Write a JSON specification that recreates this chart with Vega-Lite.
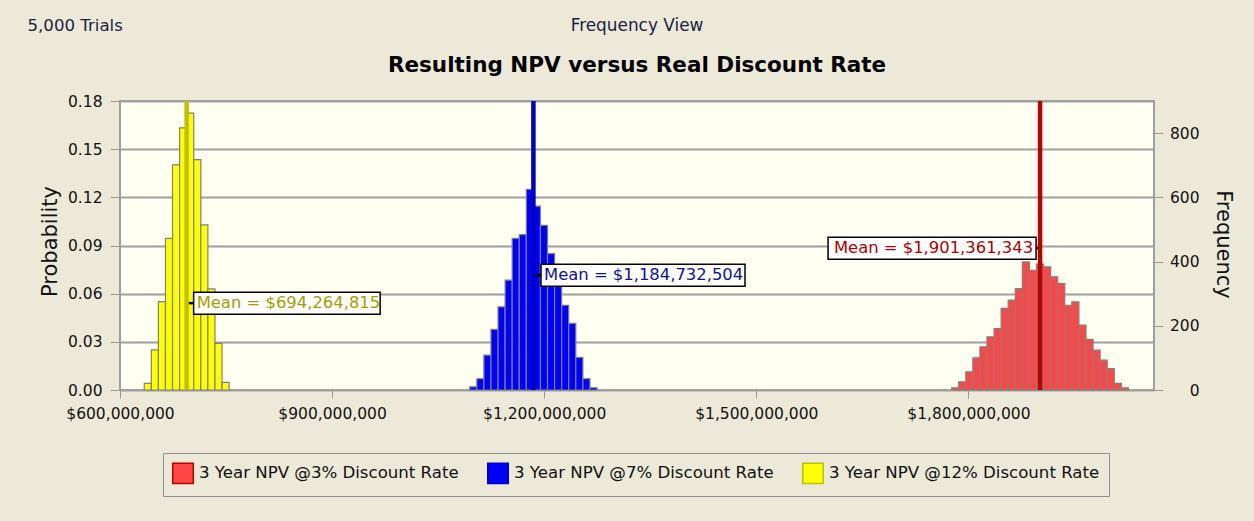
{
  "$schema": "https://vega.github.io/schema/vega-lite/v6.json",
  "width": 1034,
  "height": 289,
  "autosize": "none",
  "padding": {"left": 120, "top": 101, "right": 100, "bottom": 131},
  "background": "#ece9d8",
  "datasets": {
    "bins": [
      {"series": "3 Year NPV @12% Discount Rate", "start": 634300000, "end": 644300000, "probability": 0.0041},
      {"series": "3 Year NPV @12% Discount Rate", "start": 644300000, "end": 654300000, "probability": 0.0250},
      {"series": "3 Year NPV @12% Discount Rate", "start": 654300000, "end": 664300000, "probability": 0.0551},
      {"series": "3 Year NPV @12% Discount Rate", "start": 664300000, "end": 674300000, "probability": 0.0944},
      {"series": "3 Year NPV @12% Discount Rate", "start": 674300000, "end": 684300000, "probability": 0.1402},
      {"series": "3 Year NPV @12% Discount Rate", "start": 684300000, "end": 694300000, "probability": 0.1632},
      {"series": "3 Year NPV @12% Discount Rate", "start": 694300000, "end": 704300000, "probability": 0.1725},
      {"series": "3 Year NPV @12% Discount Rate", "start": 704300000, "end": 714300000, "probability": 0.1435},
      {"series": "3 Year NPV @12% Discount Rate", "start": 714300000, "end": 724300000, "probability": 0.1028},
      {"series": "3 Year NPV @12% Discount Rate", "start": 724300000, "end": 734300000, "probability": 0.0630},
      {"series": "3 Year NPV @12% Discount Rate", "start": 734300000, "end": 744300000, "probability": 0.0290},
      {"series": "3 Year NPV @12% Discount Rate", "start": 744300000, "end": 754300000, "probability": 0.0047},
      {"series": "3 Year NPV @7% Discount Rate", "start": 1094700000, "end": 1104700000, "probability": 0.0020},
      {"series": "3 Year NPV @7% Discount Rate", "start": 1104700000, "end": 1114700000, "probability": 0.0070},
      {"series": "3 Year NPV @7% Discount Rate", "start": 1114700000, "end": 1124700000, "probability": 0.0217},
      {"series": "3 Year NPV @7% Discount Rate", "start": 1124700000, "end": 1134700000, "probability": 0.0377},
      {"series": "3 Year NPV @7% Discount Rate", "start": 1134700000, "end": 1144700000, "probability": 0.0518},
      {"series": "3 Year NPV @7% Discount Rate", "start": 1144700000, "end": 1154700000, "probability": 0.0684},
      {"series": "3 Year NPV @7% Discount Rate", "start": 1154700000, "end": 1164700000, "probability": 0.0944},
      {"series": "3 Year NPV @7% Discount Rate", "start": 1164700000, "end": 1174700000, "probability": 0.0968},
      {"series": "3 Year NPV @7% Discount Rate", "start": 1174700000, "end": 1184700000, "probability": 0.1249},
      {"series": "3 Year NPV @7% Discount Rate", "start": 1184700000, "end": 1194700000, "probability": 0.1145},
      {"series": "3 Year NPV @7% Discount Rate", "start": 1194700000, "end": 1204700000, "probability": 0.1026},
      {"series": "3 Year NPV @7% Discount Rate", "start": 1204700000, "end": 1214700000, "probability": 0.0850},
      {"series": "3 Year NPV @7% Discount Rate", "start": 1214700000, "end": 1224700000, "probability": 0.0709},
      {"series": "3 Year NPV @7% Discount Rate", "start": 1224700000, "end": 1234700000, "probability": 0.0528},
      {"series": "3 Year NPV @7% Discount Rate", "start": 1234700000, "end": 1244700000, "probability": 0.0415},
      {"series": "3 Year NPV @7% Discount Rate", "start": 1244700000, "end": 1254700000, "probability": 0.0203},
      {"series": "3 Year NPV @7% Discount Rate", "start": 1254700000, "end": 1264700000, "probability": 0.0070},
      {"series": "3 Year NPV @7% Discount Rate", "start": 1264700000, "end": 1274700000, "probability": 0.0014},
      {"series": "3 Year NPV @3% Discount Rate", "start": 1776300000, "end": 1786300000, "probability": 0.0014},
      {"series": "3 Year NPV @3% Discount Rate", "start": 1786300000, "end": 1796300000, "probability": 0.0051},
      {"series": "3 Year NPV @3% Discount Rate", "start": 1796300000, "end": 1806300000, "probability": 0.0113},
      {"series": "3 Year NPV @3% Discount Rate", "start": 1806300000, "end": 1816300000, "probability": 0.0200},
      {"series": "3 Year NPV @3% Discount Rate", "start": 1816300000, "end": 1826300000, "probability": 0.0269},
      {"series": "3 Year NPV @3% Discount Rate", "start": 1826300000, "end": 1836300000, "probability": 0.0331},
      {"series": "3 Year NPV @3% Discount Rate", "start": 1836300000, "end": 1846300000, "probability": 0.0383},
      {"series": "3 Year NPV @3% Discount Rate", "start": 1846300000, "end": 1856300000, "probability": 0.0508},
      {"series": "3 Year NPV @3% Discount Rate", "start": 1856300000, "end": 1866300000, "probability": 0.0560},
      {"series": "3 Year NPV @3% Discount Rate", "start": 1866300000, "end": 1876300000, "probability": 0.0632},
      {"series": "3 Year NPV @3% Discount Rate", "start": 1876300000, "end": 1886300000, "probability": 0.0798},
      {"series": "3 Year NPV @3% Discount Rate", "start": 1886300000, "end": 1896300000, "probability": 0.0746},
      {"series": "3 Year NPV @3% Discount Rate", "start": 1896300000, "end": 1906300000, "probability": 0.0784},
      {"series": "3 Year NPV @3% Discount Rate", "start": 1906300000, "end": 1916300000, "probability": 0.0767},
      {"series": "3 Year NPV @3% Discount Rate", "start": 1916300000, "end": 1926300000, "probability": 0.0705},
      {"series": "3 Year NPV @3% Discount Rate", "start": 1926300000, "end": 1936300000, "probability": 0.0663},
      {"series": "3 Year NPV @3% Discount Rate", "start": 1936300000, "end": 1946300000, "probability": 0.0528},
      {"series": "3 Year NPV @3% Discount Rate", "start": 1946300000, "end": 1956300000, "probability": 0.0549},
      {"series": "3 Year NPV @3% Discount Rate", "start": 1956300000, "end": 1966300000, "probability": 0.0404},
      {"series": "3 Year NPV @3% Discount Rate", "start": 1966300000, "end": 1976300000, "probability": 0.0315},
      {"series": "3 Year NPV @3% Discount Rate", "start": 1976300000, "end": 1986300000, "probability": 0.0248},
      {"series": "3 Year NPV @3% Discount Rate", "start": 1986300000, "end": 1996300000, "probability": 0.0186},
      {"series": "3 Year NPV @3% Discount Rate", "start": 1996300000, "end": 2006300000, "probability": 0.0134},
      {"series": "3 Year NPV @3% Discount Rate", "start": 2006300000, "end": 2016300000, "probability": 0.0041},
      {"series": "3 Year NPV @3% Discount Rate", "start": 2016300000, "end": 2026300000, "probability": 0.0014}
    ],
    "means": [
      {"series": "3 Year NPV @3% Discount Rate", "mean": 1901361343, "label": "Mean = $1,901,361,343"},
      {"series": "3 Year NPV @7% Discount Rate", "mean": 1184732504, "label": "Mean = $1,184,732,504"},
      {"series": "3 Year NPV @12% Discount Rate", "mean": 694264815, "label": "Mean = $694,264,815"}
    ]
  },
  "title": {
    "text": "Frequency View",
    "subtitle": "Resulting NPV versus Real Discount Rate",
    "anchor": "middle",
    "frame": "group",
    "font": "DejaVu Sans",
    "fontSize": 16.9,
    "fontWeight": "normal",
    "color": "#1c1c44",
    "subtitleFont": "DejaVu Sans",
    "subtitleFontSize": 21.5,
    "subtitleFontWeight": "bold",
    "subtitleColor": "#000000",
    "subtitlePadding": 20,
    "offset": -60
  },
  "config": {
    "view": {"fill": "#fffff2", "stroke": "#a0a0a0", "strokeWidth": 2},
    "axis": {
      "labelFont": "DejaVu Sans",
      "labelFontSize": 15.5,
      "labelColor": "#111111",
      "titleFont": "DejaVu Sans",
      "titleFontWeight": "normal",
      "titleColor": "#111111",
      "tickColor": "#999999",
      "labelFlush": false,
      "labelOverlap": false
    }
  },
  "layer": [
    {
      "layer": [
        {
          "data": {"name": "bins"},
          "mark": {"type": "rect", "stroke": "#808080", "strokeWidth": 1.2},
          "encoding": {
            "x": {
              "field": "start", "type": "quantitative",
              "scale": {"domain": [600000000, 2062500000], "nice": false, "zero": false},
              "axis": {"orient": "bottom", "title": null, "values": [600000000, 900000000, 1200000000, 1500000000, 1800000000], "format": "$,.0f", "grid": false, "domain": false, "tickSize": 8, "labelPadding": 8}
            },
            "x2": {"field": "end"},
            "y": {
              "field": "probability", "type": "quantitative",
              "scale": {"domain": [0, 0.18], "nice": false},
              "axis": {"orient": "left", "title": "Probability", "values": [0, 0.03, 0.06, 0.09, 0.12, 0.15, 0.18], "format": ".2f", "grid": true, "gridColor": "#a0a0a0", "gridWidth": 1.8, "domain": false, "tickSize": 10, "labelPadding": 8, "titleFontSize": 21, "titleAngle": -90, "titleX": -64, "titleY": 140, "titleAlign": "center", "titleBaseline": "alphabetic"}
            },
            "fill": {
              "field": "series", "type": "nominal",
              "scale": {"domain": ["3 Year NPV @3% Discount Rate", "3 Year NPV @7% Discount Rate", "3 Year NPV @12% Discount Rate"], "range": ["#ff4646", "#0000ff", "#ffff00"]},
              "legend": {"orient": "none", "legendX": 43, "legendY": 352, "direction": "horizontal", "title": null, "symbolType": "square", "symbolSize": 420, "symbolStrokeColor": "#808080", "symbolStrokeWidth": 1.5, "symbolOpacity": 1, "labelFont": "DejaVu Sans", "labelFontSize": 16.6, "labelColor": "#111111", "labelLimit": 0, "labelOffset": 5, "columnPadding": 25, "padding": 9, "strokeColor": "#909090", "fillColor": "#ece9d8"}
            }
          }
        },
        {
          "data": {"name": "means"},
          "transform": [{"filter": "datum.series === '3 Year NPV @12% Discount Rate'"}],
          "layer": [
            {
              "mark": {"type": "rule", "color": "#000000", "strokeWidth": 2.5, "x2Offset": 7},
              "encoding": {"x": {"field": "mean", "type": "quantitative", "title": null}, "x2": {"field": "mean"}, "y": {"datum": 0.0541, "type": "quantitative"}}
            },
            {
              "mark": {"type": "rect", "fill": "#ffffff", "stroke": "#000000", "strokeWidth": 1.5, "xOffset": 7, "x2Offset": 193.5, "yOffset": -11, "y2Offset": 11},
              "encoding": {"x": {"field": "mean", "type": "quantitative", "title": null}, "x2": {"field": "mean"}, "y": {"datum": 0.0541, "type": "quantitative"}, "y2": {"datum": 0.0541}}
            },
            {
              "mark": {"type": "text", "align": "left", "baseline": "middle", "xOffset": 10, "font": "DejaVu Sans", "fontSize": 16.4, "color": "#a0a000"},
              "encoding": {"x": {"field": "mean", "type": "quantitative", "title": null}, "y": {"datum": 0.0541, "type": "quantitative"}, "text": {"field": "label"}}
            }
          ]
        },
        {
          "data": {"name": "means"},
          "transform": [{"filter": "datum.series === '3 Year NPV @7% Discount Rate'"}],
          "layer": [
            {
              "mark": {"type": "rule", "color": "#000000", "strokeWidth": 2.5, "x2Offset": 8},
              "encoding": {"x": {"field": "mean", "type": "quantitative", "title": null}, "x2": {"field": "mean"}, "y": {"datum": 0.0715, "type": "quantitative"}}
            },
            {
              "mark": {"type": "rect", "fill": "#ffffff", "stroke": "#000000", "strokeWidth": 1.5, "xOffset": 7.6, "x2Offset": 211.6, "yOffset": -11, "y2Offset": 11},
              "encoding": {"x": {"field": "mean", "type": "quantitative", "title": null}, "x2": {"field": "mean"}, "y": {"datum": 0.0715, "type": "quantitative"}, "y2": {"datum": 0.0715}}
            },
            {
              "mark": {"type": "text", "align": "left", "baseline": "middle", "xOffset": 10.6, "font": "DejaVu Sans", "fontSize": 16.4, "color": "#10109a"},
              "encoding": {"x": {"field": "mean", "type": "quantitative", "title": null}, "y": {"datum": 0.0715, "type": "quantitative"}, "text": {"field": "label"}}
            }
          ]
        },
        {
          "data": {"name": "means"},
          "transform": [{"filter": "datum.series === '3 Year NPV @3% Discount Rate'"}],
          "layer": [
            {
              "mark": {"type": "rule", "color": "#000000", "strokeWidth": 2.5, "x2Offset": -5},
              "encoding": {"x": {"field": "mean", "type": "quantitative", "title": null}, "x2": {"field": "mean"}, "y": {"datum": 0.0883, "type": "quantitative"}}
            },
            {
              "mark": {"type": "rect", "fill": "#ffffff", "stroke": "#000000", "strokeWidth": 1.5, "xOffset": -212, "x2Offset": -4, "yOffset": -11, "y2Offset": 11},
              "encoding": {"x": {"field": "mean", "type": "quantitative", "title": null}, "x2": {"field": "mean"}, "y": {"datum": 0.0883, "type": "quantitative"}, "y2": {"datum": 0.0883}}
            },
            {
              "mark": {"type": "text", "align": "right", "baseline": "middle", "xOffset": -7, "font": "DejaVu Sans", "fontSize": 16.4, "color": "#b00000"},
              "encoding": {"x": {"field": "mean", "type": "quantitative", "title": null}, "y": {"datum": 0.0883, "type": "quantitative"}, "text": {"field": "label"}}
            }
          ]
        }
      ]
    },
    {
      "data": {"name": "means"},
      "mark": {"type": "rule", "strokeWidth": 4.5},
      "encoding": {
        "x": {
          "field": "mean", "type": "quantitative",
          "axis": {"orient": "top", "title": "5,000 Trials", "labels": false, "ticks": false, "domain": false, "grid": false, "titleFontSize": 16.6, "titleColor": "#1c1c44", "titleX": -93, "titleY": -71, "titleAlign": "left", "titleAnchor": "start", "titleBaseline": "alphabetic"}
        },
        "y": {
          "datum": 0, "type": "quantitative",
          "scale": {"domain": [0, 900], "nice": false},
          "axis": {"orient": "right", "title": "Frequency", "values": [0, 200, 400, 600, 800], "grid": false, "domain": false, "tickSize": 9, "labelAlign": "right", "labelPadding": 36, "titleFontSize": 21, "titleAngle": 90, "titleX": 62, "titleY": 143, "titleAlign": "center", "titleBaseline": "alphabetic"}
        },
        "y2": {"datum": 900},
        "stroke": {
          "field": "series", "type": "nominal",
          "scale": {"domain": ["3 Year NPV @3% Discount Rate", "3 Year NPV @7% Discount Rate", "3 Year NPV @12% Discount Rate"], "range": ["#c00000", "#0000c0", "#c0c000"]},
          "legend": null
        }
      }
    }
  ],
  "resolve": {"scale": {"y": "independent"}, "axis": {"x": "independent"}}
}
